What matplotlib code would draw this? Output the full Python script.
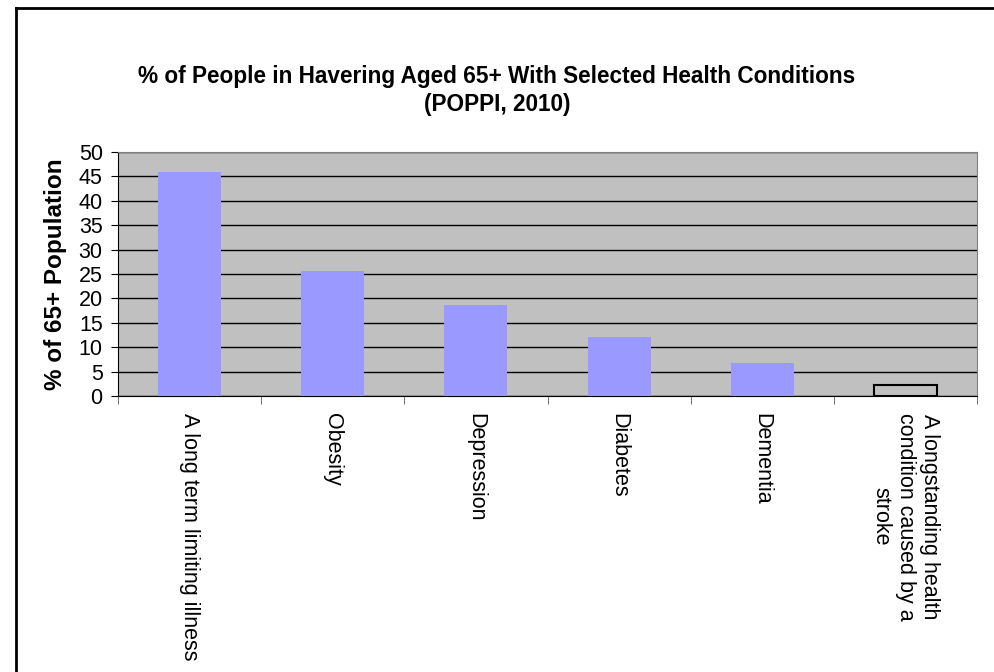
import matplotlib
matplotlib.use("Agg")
import matplotlib.pyplot as plt
from matplotlib.lines import Line2D

plt.rcParams["font.family"] = ["Liberation Sans", "DejaVu Sans"]

conditions = ["A long term limiting illness", "Obesity", "Depression",
              "Diabetes", "Dementia",
              "A longstanding health\ncondition caused by a\nstroke"]
pct = [46.0, 25.6, 18.6, 12.1, 6.8, 2.3]
bar_colors = ["#9999FF"] * 5 + ["none"]
edge_colors = ["none"] * 5 + ["black"]

W, H = 994, 672
fig = plt.figure(figsize=(W / 100, H / 100), dpi=100)
fig.patch.set_facecolor("white")

# outer chart frame (only left and top edges visible)
fig.add_artist(Line2D([16 / W, 16 / W], [0, 1 - 8 / H], color="black", lw=2))
fig.add_artist(Line2D([16 / W, 1], [1 - 8 / H, 1 - 8 / H], color="black", lw=2))

x0, x1, y0, y1 = 118, 977, 152, 396
ax = fig.add_axes([x0 / W, 1 - y1 / H, (x1 - x0) / W, (y1 - y0) / H])
ax.set_facecolor("#C0C0C0")

xs = list(range(len(conditions)))
ax.bar(xs, pct, width=0.44, color=bar_colors, edgecolor=edge_colors,
       linewidth=1.5, zorder=3)

ax.set_xlim(-0.5, len(conditions) - 0.5)
ax.set_ylim(0, 50)
ax.set_yticks(range(0, 51, 5))
ax.yaxis.grid(True, color="black", lw=1)
ax.set_axisbelow(True)

ax.set_xticks(xs)
ax.set_xticklabels(conditions, rotation=-90, va="top", ha="center",
                   fontsize=15.5, linespacing=1.2, multialignment="center")
ax.tick_params(axis="x", length=0, pad=12)
ax.set_xticks([i + 0.5 for i in range(-1, len(conditions))], minor=True)
ax.tick_params(axis="x", which="minor", length=6, color="#555555")
ax.tick_params(axis="y", labelsize=15.5, length=5, pad=6)

for s in ["top", "right"]:
    ax.spines[s].set_color("#808080")
for s in ["left", "bottom"]:
    ax.spines[s].set_color("black")

ax.set_ylabel("% of 65+ Population", fontsize=17.5, fontweight="bold", labelpad=8)

fig.text(497 / W, 1 - 76 / H,
         "% of People in Havering Aged 65+ With Selected Health Conditions",
         ha="center", va="center", fontsize=16.3, fontweight="bold")
fig.text(497 / W, 1 - 104 / H, "(POPPI, 2010)",
         ha="center", va="center", fontsize=16.3, fontweight="bold")

fig.savefig("out.png", dpi=100)
